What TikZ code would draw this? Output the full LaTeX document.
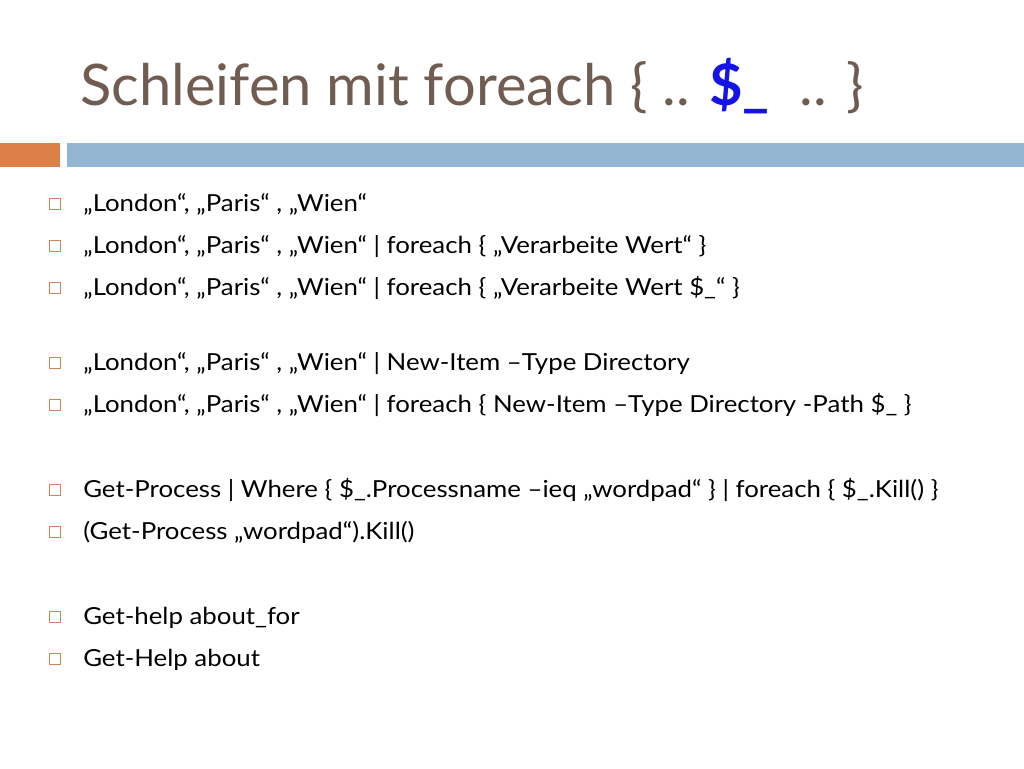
\documentclass[tikz,border=0pt]{standalone}
\usepackage{fontspec}
\setmainfont{Lato}[FakeStretch=1.1]
\newfontfamily\titlefont{Lato}[FakeStretch=1.01]
\definecolor{titlec}{RGB}{112,92,80}
\definecolor{orangec}{RGB}{221,128,71}
\definecolor{bluec}{RGB}{148,182,210}
\definecolor{dollarc}{RGB}{20,20,230}
\definecolor{bulc}{RGB}{205,130,90}
\begin{document}
\begin{tikzpicture}[x=0.75pt,y=-0.75pt,
  item/.style={anchor=base west,inner sep=0pt,font=\fontsize{17.6}{20}\selectfont},
  bul/.style={draw=bulc,line width=0.7pt,minimum size=8.5pt,inner sep=0pt}]
\useasboundingbox (0,0) rectangle (1024,768);
\node[anchor=base west,inner sep=0pt,text=titlec,font=\titlefont\fontsize{43}{50}\selectfont] (title) at (80,105) {Schleifen mit foreach \{ .. \textcolor{dollarc}{\bfseries\$\_} \ .. \}};
\fill[orangec] (0,143) rectangle (60,167);
\fill[bluec] (67,143) rectangle (1024,167);
\foreach \y/\t [count=\i] in {
 211/{„London“, „Paris“ , „Wien“},
 253/{„London“, „Paris“ , „Wien“ | foreach \{ „Verarbeite Wert“ \}},
 295/{„London“, „Paris“ , „Wien“ | foreach \{ „Verarbeite Wert \$\_“ \}},
 370/{„London“, „Paris“ , „Wien“ | New-Item –Type Directory},
 412/{„London“, „Paris“ , „Wien“ | foreach \{ New-Item –Type Directory -Path \$\_ \}},
 497/{Get-Process | Where \{ \$\_.Processname –ieq „wordpad“ \} | foreach \{ \$\_.Kill() \}},
 539/{(Get-Process „wordpad“).Kill()},
 624/{Get-help about\_for},
 666/{Get-Help about}} {
  \node[bul] (b\i) at (55,\y-7) {};
  \node[item] (t\i) at (83,\y) {\t};
}
\end{tikzpicture}
\end{document}
